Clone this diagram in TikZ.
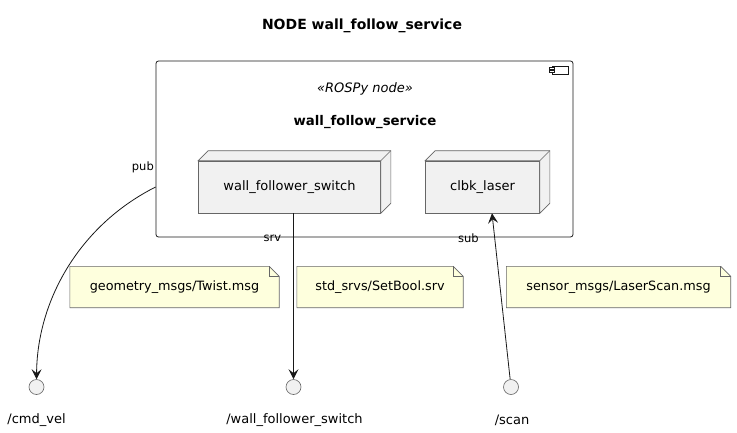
\documentclass[tikz,border=0pt]{standalone}
\usepackage{fontspec}
\setmainfont{DejaVu Sans}
\usetikzlibrary{arrows.meta}
\usetikzlibrary{calc}
\usetikzlibrary{positioning}
\usetikzlibrary{backgrounds}

\definecolor{boxfill}{HTML}{F1F1F1}
\definecolor{notefill}{HTML}{FEFFDD}
\definecolor{edgegray}{HTML}{181818}

\tikzset{
    umlnode/.style = {draw=black!60, line width=0.6pt, fill=boxfill, minimum height=52pt, inner sep=0pt, font=\fontsize{13}{15}\selectfont},
    iface/.style = {circle, draw=black!60, line width=0.6pt, fill=boxfill, minimum size=15pt, inner sep=0pt},
    notebox/.style = {minimum height=41pt, inner sep=0pt, font=\fontsize{12.8}{15}\selectfont},
    topic/.style = {inner sep=0pt, font=\fontsize{13}{15}\selectfont},
    tag/.style = {inner sep=0pt, font=\fontsize{11.5}{13}\selectfont},
    link/.style = {edgegray, line width=0.8pt, -{Stealth[length=10pt,width=10pt,inset=4pt]}}
}

\begin{document}
\begin{tikzpicture}[x=1pt, y=-1pt]
            \useasboundingbox (0,0) rectangle (737,432);
            \node[font=\bfseries\fontsize{14}{16}\selectfont] (title) at (362,26) {NODE wall\_follow\_service};

            \node[draw=edgegray, line width=0.8pt, rounded corners=2.5pt, minimum width=417pt, minimum height=176pt] (comp) at (364.5,149) {};
            \draw[edgegray, line width=0.6pt] (552,66) rectangle (568,74);
            \filldraw[edgegray, fill=white, line width=0.6pt] (549.5,67.5) rectangle (554.5,69.5);
            \filldraw[edgegray, fill=white, line width=0.6pt] (549.5,70.5) rectangle (554.5,72.5);
            \node[font=\itshape\fontsize{13}{15}\selectfont] (stereo) at (365,89) {«ROSPy node»};
            \node[font=\bfseries\fontsize{13.3}{15}\selectfont] (compname) at (365,122) {wall\_follow\_service};

            \node[umlnode, minimum width=182pt] (switch) at (289.5,187) {wall\_follower\_switch};
            \node[umlnode, minimum width=114pt] (laser) at (482.5,187) {clbk\_laser};
            \foreach \n in {switch,laser} {
                \filldraw[black!60, fill=boxfill, line width=0.6pt] (\n.north west) -- ++(10,-10) -- ($(\n.north east)+(10,-10)$) -- ($(\n.south east)+(10,-10)$) -- (\n.south east) -- (\n.north east) -- cycle;
                \draw[black!60, line width=0.6pt] (\n.north east) -- ++(10,-10);
            }

            \node[iface] (cmdvel) at (36.5,387) {};
            \node[iface] (switchsrv) at (293.5,387) {};
            \node[iface] (scan) at (511,387) {};
            \node[topic] (cmdvellbl) at (36.5,420) {/cmd\_vel};
            \node[topic] (switchlbl) at (294.5,420) {/wall\_follower\_switch};
            \node[topic] (scanlbl) at (512,420) {/scan};

            \node[notebox, minimum width=209pt] (twistnote) at (174.5,287) {geometry\_msgs/Twist.msg};
            \node[notebox, minimum width=166pt] (boolnote) at (380,287) {std\_srvs/SetBool.srv};
            \node[notebox, minimum width=224pt] (laserscannote) at (618.5,287) {sensor\_msgs/LaserScan.msg};
            \begin{scope}[on background layer]
                \foreach \n in {twistnote,boolnote,laserscannote} {
                    \filldraw[black!60, fill=notefill, line width=0.6pt] (\n.south west) -- (\n.north west) -- ($(\n.north east)+(-10,0)$) -- ($(\n.north east)+(0,10)$) -- (\n.south east) -- cycle;
                    \draw[black!60, line width=0.6pt] ($(\n.north east)+(-10,0)$) -- ++(0,10) -- ++(10,0);
                }
            \end{scope}

            \draw[link] (comp.west |- switch) .. controls (80,225) and (37,300) .. (cmdvel);
            \draw[link] (switchsrv |- switch.south) -- (switchsrv);
            \draw[link] (scan) -- ($(laser.south)+(9.5,0)$);

            \node[tag, anchor=east] (publbl) at (154,167) {pub};
            \node[tag] (srvlbl) at (272.5,238) {srv};
            \node[tag] (sublbl) at (468.5,238) {sub};
        \end{tikzpicture}
\end{document}
